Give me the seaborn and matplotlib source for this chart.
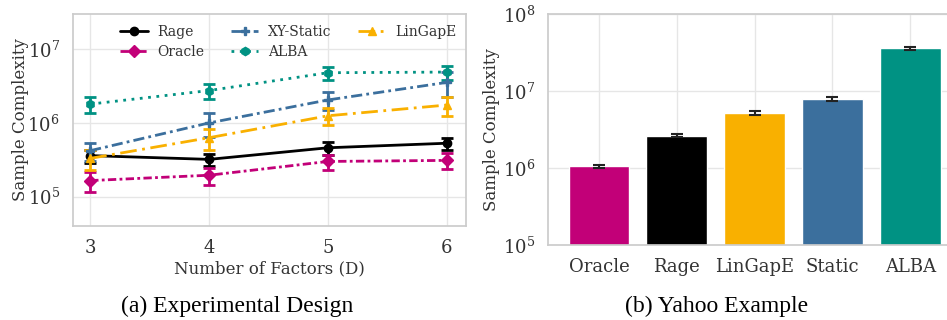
import numpy as np
import pandas as pd
from matplotlib import pyplot as plt
import seaborn as sns

# (a) Experimental Design
factors = [3, 4, 5, 6]
rage = [3.6e5, 3.2e5, 4.6e5, 5.3e5]
rage_err = [0.7e5, 0.6e5, 0.9e5, 1.0e5]
oracle = [1.65e5, 1.95e5, 3.0e5, 3.1e5]
oracle_err = [0.5e5, 0.5e5, 0.7e5, 0.75e5]
xy_static = [4.2e5, 1.0e6, 2.05e6, 3.55e6]
xy_static_err = [1.2e5, 0.35e6, 0.55e6, 1.3e6]
lingape = [3.3e5, 6.3e5, 1.25e6, 1.75e6]
lingape_err = [1.0e5, 2.0e5, 0.32e6, 0.5e6]
alba = [1.8e6, 2.75e6, 4.8e6, 4.9e6]
alba_err = [0.45e6, 0.65e6, 1.0e6, 1.1e6]

# (b) Yahoo Example
yahoo_algos = ["Oracle", "Rage", "LinGapE", "Static", "ALBA"]
yahoo_vals = [1.06e6, 2.65e6, 5.2e6, 7.9e6, 3.6e7]
yahoo_err = [0.05e6, 0.12e6, 0.3e6, 0.5e6, 1.8e6]

c_oracle = "#C20078"
c_rage = "#000000"
c_lingape = "#F9B000"
c_static = "#3B6F9D"
c_alba = "#009283"

sns.set_theme(style="whitegrid")
plt.rcParams["font.family"] = ["DejaVu Serif"]
plt.rcParams["axes.edgecolor"] = "#cccccc"
plt.rcParams["grid.color"] = "#e6e6e6"
plt.rcParams["text.color"] = "#333333"
plt.rcParams["axes.labelcolor"] = "#333333"
plt.rcParams["xtick.color"] = "#333333"
plt.rcParams["ytick.color"] = "#333333"

fig = plt.figure(figsize=(9.47, 3.2), dpi=100)
ax1 = fig.add_axes([0.077, 0.294, 0.415, 0.662])
ax2 = fig.add_axes([0.579, 0.234, 0.425, 0.722])

series = [
    ("Rage", rage, rage_err, c_rage, "-", "o"),
    ("Oracle", oracle, oracle_err, c_oracle, (0, (3, 1.2, 1, 1.2)), "D"),
    ("XY-Static", xy_static, xy_static_err, c_static, (0, (4, 1.5, 1, 1.5)), "P"),
    ("ALBA", alba, alba_err, c_alba, (0, (1, 2)), "h"),
    ("LinGapE", lingape, lingape_err, c_lingape, (0, (6, 2, 1, 2)), "^"),
]
handles, names = [], []
for name, vals, err, col, ls, mk in series:
    cont = ax1.errorbar(factors, vals, yerr=err, color=col, linestyle=ls, marker=mk,
                        markersize=6, linewidth=2, capsize=4, capthick=2, elinewidth=2)
    handles.append(cont[0])
    names.append(name)

ax1.set_yscale("log")
ax1.set_ylim(4e4, 3e7)
ax1.set_xlim(2.855, 6.16)
ax1.set_xticks(factors)
ax1.minorticks_off()
ax1.set_yticks([1e5, 1e6, 1e7])
ax1.set_xlabel("Number of Factors (D)", fontsize=12, labelpad=2)
ax1.set_ylabel("Sample Complexity", fontsize=12, labelpad=-1)
ax1.tick_params(labelsize=13)
ax1.legend(handles, names, ncol=3, loc="upper left", frameon=False, fontsize=10,
           bbox_to_anchor=(0.105, 0.976), borderaxespad=0, columnspacing=1.9,
           handlelength=2.0, labelspacing=0.45, handletextpad=0.7)

# bar chart
df = pd.DataFrame({"algo": yahoo_algos, "val": yahoo_vals})
sns.barplot(data=df, x="algo", y="val", hue="algo", ax=ax2, legend=False,
            palette=[c_oracle, c_rage, c_lingape, c_static, c_alba],
            width=0.78, errorbar=None, saturation=1)
ax2.set_yscale("log")
ax2.errorbar(np.arange(len(yahoo_algos)), yahoo_vals, yerr=yahoo_err, fmt="none",
             ecolor="#222222", capsize=4, capthick=1.5, elinewidth=1.5)
ax2.set_ylim(1e5, 1e8)
ax2.set_xlim(-0.65, 4.52)
ax2.minorticks_off()
ax2.set_yticks([1e5, 1e6, 1e7, 1e8])
ax2.set_xlabel("")
ax2.set_ylabel("Sample Complexity", fontsize=12, labelpad=2)
ax2.tick_params(labelsize=13)
ax2.xaxis.grid(True)
ax2.set_axisbelow(True)

fig.text(0.25, 0.025, "(a) Experimental Design", ha="center", fontsize=17,
         family="Liberation Serif", color="black")
fig.text(0.757, 0.025, "(b) Yahoo Example", ha="center", fontsize=17,
         family="Liberation Serif", color="black")

fig.savefig("out.png", dpi=100)
